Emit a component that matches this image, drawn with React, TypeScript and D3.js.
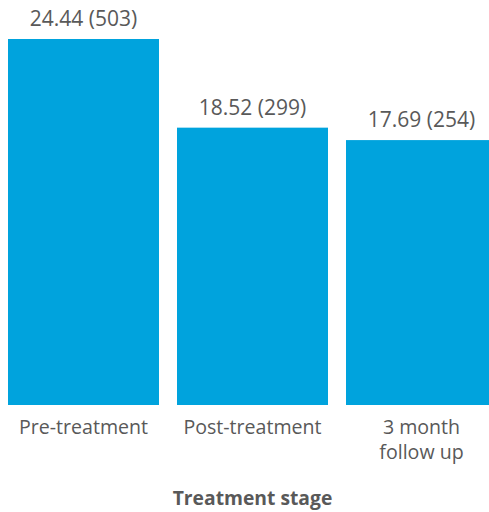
import React from "react";
import * as d3 from "d3";

const categories: string[][] = [["Pre-treatment"], ["Post-treatment"], ["3 month", "follow up"]];
const values: number[] = [24.44, 18.52, 17.69];
const counts: number[] = [503, 299, 254];
const axisTitle = "Treatment stage";

const W = 489;
const H = 512;
const BAR = "#00A3DD";
const TEXT = "#595959";
const FONT = "'Open Sans', 'Noto Sans', sans-serif";

export default function App() {
  const x = d3
    .scaleBand<number>()
    .domain(values.map((_, i) => i))
    .range([8, 497])
    .paddingInner(18 / 169)
    .paddingOuter(0);
  const y = d3.scaleLinear().domain([0, 24.44]).range([405, 39]);

  return (
    <svg
      width={W}
      height={H}
      style={{ position: "absolute", left: 0, top: 0, overflow: "hidden" }}
      fontFamily={FONT}
    >
      <rect width={W} height={H} fill="#fff" />
      {values.map((v, i) => (
        <g key={i}>
          <rect x={x(i)!} y={y(v)} width={x.bandwidth()} height={y(0) - y(v)} fill={BAR} />
          <text
            x={x(i)! + x.bandwidth() / 2}
            y={y(v) - 13}
            textAnchor="middle"
            fontSize={21}
            fill={TEXT}
          >
            {`${v.toFixed(2)} (${counts[i]})`}
          </text>
          {categories[i].map((line, j) => (
            <text
              key={j}
              x={x(i)! + x.bandwidth() / 2}
              y={434 + j * 25}
              textAnchor="middle"
              fontSize={19.6}
              fill={TEXT}
            >
              {line}
            </text>
          ))}
        </g>
      ))}
      <text x={252.5} y={505} textAnchor="middle" fontSize={19.3} fontWeight="bold" fill={TEXT}>
        {axisTitle}
      </text>
    </svg>
  );
}
